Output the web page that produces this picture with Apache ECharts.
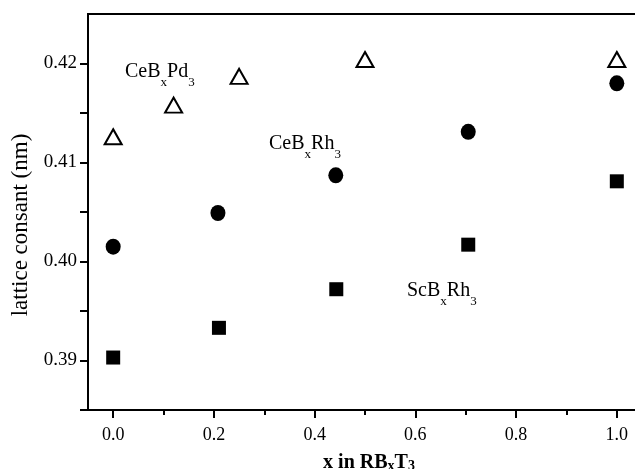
<!DOCTYPE html>
<html>
<head>
<meta charset="utf-8">
<script src="https://cdn.jsdelivr.net/npm/echarts@6/dist/echarts.min.js"></script>
<style>
  html, body { margin: 0; padding: 0; background: #fff; }
  #chart-container { width: 635px; height: 469px; }
</style>
</head>
<body>
<div id="chart-container"></div>
<script>
// data
var ceBPd3X = [0.0, 0.12, 0.25, 0.50, 1.0];
var ceBPd3Y = [0.4126, 0.4158, 0.4187, 0.4204, 0.4204];

var ceBRh3X = [0.0, 0.208, 0.442, 0.705, 1.0];
var ceBRh3Y = [0.4015, 0.4049, 0.4087, 0.4131, 0.4180];

var scBRh3X = [0.0, 0.21, 0.443, 0.705, 1.0];
var scBRh3Y = [0.3903, 0.3933, 0.3972, 0.4017, 0.4081];

var xTicks = [0.0, 0.2, 0.4, 0.6, 0.8, 1.0];
var xMinorTicks = [0.1, 0.3, 0.5, 0.7, 0.9];
var yLabels = [0.39, 0.40, 0.41, 0.42];
var yTicks = [0.385, 0.39, 0.395, 0.40, 0.405, 0.41, 0.415, 0.42];

function pairs(xs, ys) {
	return xs.map(function (x, i) { return [x, ys[i]]; });
}

var dom = document.getElementById('chart-container');
var myChart = echarts.init(dom, null, { renderer: 'canvas' });

var serif = 'Liberation Serif';
var labelRich = {
	m: { fontFamily: serif, fontSize: 20, lineHeight: 22, verticalAlign: 'top', color: '#000' },
	s: { fontFamily: serif, fontSize: 13, lineHeight: 13, verticalAlign: 'top', padding: [14, 0, 0, 0], color: '#000' }
};

var option = {
	animation: false,
	backgroundColor: '#fff',
	textStyle: { fontFamily: serif, color: '#000' },
	grid: {
		left: 88,
		top: 14,
		right: -7,
		bottom: 59,
		outerBoundsMode: 'none',
		containLabel: false,
		show: true,
		borderColor: '#000',
		borderWidth: 2
	},
	xAxis: [
		{
			type: 'value',
			min: -0.05,
			max: 1.05,
			name: '{b|x in RB}{s|x}{b|T}{s|3}',
			nameLocation: 'middle',
			nameGap: 43,
			nameTextStyle: {
				padding: [0, 0, 0, 8],
				rich: {
					b: { fontFamily: serif, fontSize: 20, fontWeight: 'bold', color: '#000', lineHeight: 22, verticalAlign: 'top' },
					s: { fontFamily: serif, fontSize: 14, fontWeight: 'bold', color: '#000', lineHeight: 14, verticalAlign: 'top', padding: [6, 0, 0, 0] }
				}
			},
			axisLine: { onZero: false, lineStyle: { color: '#000', width: 2 } },
			axisTick: { length: 8, lineStyle: { color: '#000', width: 2 }, customValues: xTicks },
			axisLabel: {
				customValues: xTicks,
				margin: 16,
				fontSize: 18,
				fontFamily: serif,
				color: '#000',
				formatter: function (v) { return v.toFixed(1); }
			},
			splitLine: { show: false }
		},
		{
			type: 'value',
			position: 'bottom',
			min: -0.05,
			max: 1.05,
			axisLine: { show: false, onZero: false },
			axisTick: { length: 5, lineStyle: { color: '#000', width: 2 }, customValues: xMinorTicks },
			axisLabel: { show: false },
			splitLine: { show: false }
		}
	],
	yAxis: {
		type: 'value',
		min: 0.385,
		max: 0.425,
		name: 'lattice consant (nm)',
		nameLocation: 'middle',
		nameGap: 55,
		nameTextStyle: { fontFamily: serif, fontSize: 23, color: '#000', padding: [0, 0, 0, -26] },
		axisLine: { show: true, onZero: false, lineStyle: { color: '#000', width: 2 } },
		axisTick: { length: 8, lineStyle: { color: '#000', width: 2 }, customValues: yTicks },
		axisLabel: {
			customValues: yLabels,
			margin: 11,
			fontSize: 19,
			fontFamily: serif,
			color: '#000',
			formatter: function (v) { return v.toFixed(2); }
		},
		splitLine: { show: false }
	},
	graphic: [
		{ type: 'text', x: 125, y: 62, style: { text: '{m|CeB}{s|x}{m|Pd}{s|3}', rich: labelRich } },
		{ type: 'text', x: 269, y: 134, style: { text: '{m|CeB}{s|x}{m|Rh}{s|3}', rich: labelRich } },
		{ type: 'text', x: 407, y: 281, style: { text: '{m|ScB}{s|x}{m|Rh}{s|3}', rich: labelRich } }
	],
	series: [
		{
			name: 'CeBxPd3',
			type: 'scatter',
			symbol: 'triangle',
			symbolSize: [17, 15],
			itemStyle: { color: '#fff', borderColor: '#000', borderWidth: 2, opacity: 1 },
			data: pairs(ceBPd3X, ceBPd3Y)
		},
		{
			name: 'CeBxRh3',
			type: 'scatter',
			symbol: 'circle',
			symbolSize: [15, 16],
			itemStyle: { color: '#000', opacity: 1 },
			data: pairs(ceBRh3X, ceBRh3Y)
		},
		{
			name: 'ScBxRh3',
			type: 'scatter',
			symbol: 'rect',
			symbolSize: 14,
			itemStyle: { color: '#000', opacity: 1 },
			data: pairs(scBRh3X, scBRh3Y)
		}
	]
};

myChart.setOption(option);
window.addEventListener('resize', myChart.resize);
</script>
</body>
</html>
